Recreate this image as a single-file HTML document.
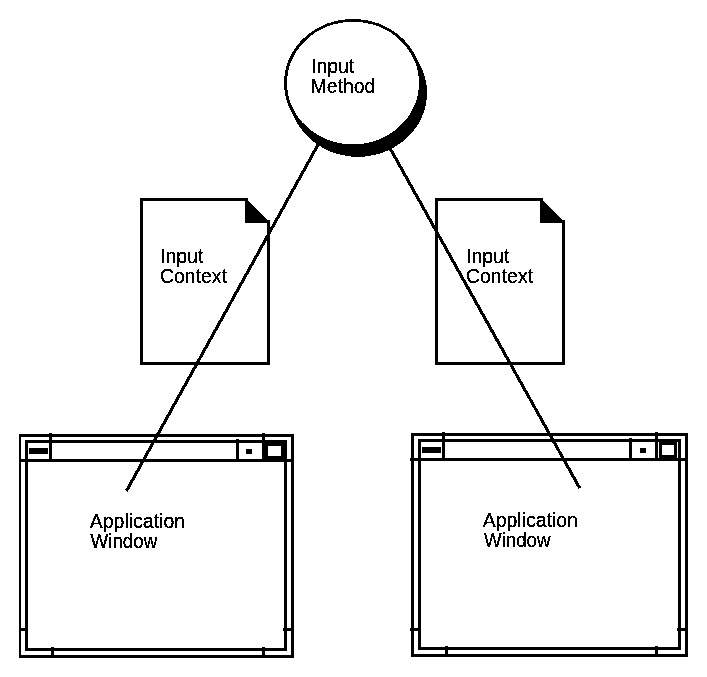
<!DOCTYPE html>
<html>
<head>
<meta charset="utf-8">
<title>Input Method Diagram</title>
<style>
html,body{margin:0;padding:0;background:#fff;}
body{width:707px;height:677px;overflow:hidden;}
svg{display:block;}
text{font-family:"Liberation Sans",Arial,Helvetica,sans-serif;font-size:19.6px;fill:#000;stroke:#000;stroke-width:0.25px;}
</style>
</head>
<body>
<svg width="707" height="677" viewBox="0 0 707 677">
<defs>
<filter id="bilevel" x="0" y="0" width="707" height="677" filterUnits="userSpaceOnUse" color-interpolation-filters="sRGB">
<feColorMatrix type="saturate" values="0"/>
<feComponentTransfer>
<feFuncR type="discrete" tableValues="0 1"/>
<feFuncG type="discrete" tableValues="0 1"/>
<feFuncB type="discrete" tableValues="0 1"/>
</feComponentTransfer>
</filter>
</defs>
<g filter="url(#bilevel)">
<rect x="0" y="0" width="707" height="677" fill="#fff"/>

<!-- Document 1 -->
<g id="doc1">
<polygon points="141.5,199.5 247,199.5 268.5,221 268.5,363.5 141.5,363.5" fill="#fff"/>
<g fill="#000" shape-rendering="crispEdges">
<rect x="140" y="198" width="108" height="3"/>
<rect x="140" y="198" width="3" height="167"/>
<rect x="140" y="362" width="130" height="3"/>
<rect x="267" y="220" width="3" height="145"/>
</g>
<polygon points="245,199 248,200.6 267.4,220 270,220 270,223 245,223" fill="#000"/>
</g>
<!-- Document 2 -->
<g id="doc2" transform="translate(295,0)">
<polygon points="141.5,199.5 247,199.5 268.5,221 268.5,363.5 141.5,363.5" fill="#fff"/>
<g fill="#000" shape-rendering="crispEdges">
<rect x="140" y="198" width="108" height="3"/>
<rect x="140" y="198" width="3" height="167"/>
<rect x="140" y="362" width="130" height="3"/>
<rect x="267" y="220" width="3" height="145"/>
</g>
<polygon points="245,199 248,200.6 267.4,220 270,220 270,223 245,223" fill="#000"/>
</g>

<!-- Window 1 -->
<g fill="#000" shape-rendering="crispEdges">
<!-- outer frame -->
<rect x="19" y="434" width="275" height="3"/>
<rect x="19" y="655" width="275" height="3"/>
<rect x="19" y="434" width="2" height="224"/>
<rect x="291" y="434" width="3" height="224"/>
<!-- inner frame -->
<rect x="25" y="440" width="262" height="3"/>
<rect x="25" y="648" width="262" height="3"/>
<rect x="25" y="440" width="3" height="211"/>
<rect x="284" y="440" width="3" height="211"/>
<!-- title bottom -->
<rect x="19" y="459" width="275" height="3"/>
<!-- dividers -->
<rect x="49" y="433" width="3" height="28"/>
<rect x="236" y="439" width="3" height="22"/>
<rect x="262" y="433" width="3" height="28"/>
<!-- buttons -->
<rect x="29" y="448" width="19" height="6"/>
<rect x="246" y="449" width="6" height="5"/>
<rect x="262" y="440" width="25" height="22"/>
<rect x="268" y="446" width="13" height="10" fill="#fff"/>
<!-- ticks -->
<rect x="19" y="628" width="8" height="3"/>
<rect x="283" y="628" width="10" height="3"/>
<rect x="51" y="647" width="3" height="10"/>
<rect x="262" y="647" width="3" height="10"/>
</g>

<!-- Window 2 -->
<g fill="#000" shape-rendering="crispEdges">
<rect x="411" y="433" width="277" height="3"/>
<rect x="411" y="654" width="277" height="3"/>
<rect x="411" y="433" width="3" height="224"/>
<rect x="685" y="433" width="3" height="224"/>
<rect x="418" y="439" width="263" height="3"/>
<rect x="418" y="647" width="263" height="3"/>
<rect x="418" y="439" width="3" height="211"/>
<rect x="678" y="439" width="3" height="211"/>
<rect x="410" y="458" width="278" height="3"/>
<rect x="442" y="432" width="3" height="28"/>
<rect x="629" y="438" width="3" height="22"/>
<rect x="655" y="432" width="3" height="28"/>
<rect x="422" y="447" width="19" height="6"/>
<rect x="640" y="448" width="6" height="5"/>
<rect x="659" y="439" width="18" height="22"/>
<rect x="662" y="445" width="12" height="10" fill="#fff"/>
<rect x="410" y="628" width="10" height="3"/>
<rect x="677" y="628" width="10" height="3"/>
<rect x="445" y="646" width="3" height="10"/>
<rect x="655" y="646" width="3" height="10"/>
</g>

<!-- connector lines -->
<g stroke="#000" stroke-width="3.1" fill="none">
<line x1="323.4" y1="135" x2="126.4" y2="491.1"/>
<line x1="384.3" y1="138" x2="579.8" y2="488.3"/>
</g>

<!-- Input Method circle with shadow -->
<ellipse cx="358" cy="92.8" rx="69" ry="64" fill="#000"/>
<ellipse cx="353" cy="83" rx="69" ry="64" fill="#000"/>
<ellipse cx="353" cy="83" rx="66" ry="61.3" fill="#fff"/>

<!-- labels -->
<text id="t1" x="311.1" y="73" textLength="43.02" lengthAdjust="spacingAndGlyphs">Input</text>
<text id="t2" x="310.6" y="93" textLength="64.69" lengthAdjust="spacingAndGlyphs">Method</text>
<text id="t3" x="160.1" y="263" textLength="43.23" lengthAdjust="spacingAndGlyphs">Input</text>
<text id="t4" x="159.96" y="283" textLength="66.96" lengthAdjust="spacingAndGlyphs">Context</text>
<text id="t5" x="466.1" y="263" textLength="43.23" lengthAdjust="spacingAndGlyphs">Input</text>
<text id="t6" x="465.96" y="283" textLength="67.09" lengthAdjust="spacingAndGlyphs">Context</text>
<text id="t7" x="89.71" y="528" textLength="95.36" lengthAdjust="spacingAndGlyphs">Application</text>
<text id="t8" x="90.62" y="548" textLength="66.61" lengthAdjust="spacingAndGlyphs">Window</text>
<text id="t9" x="482.8" y="527" textLength="95.03" lengthAdjust="spacingAndGlyphs">Application</text>
<text id="t10" x="484" y="547" textLength="66.45" lengthAdjust="spacingAndGlyphs">Window</text>
</g>
</svg>
</body>
</html>
